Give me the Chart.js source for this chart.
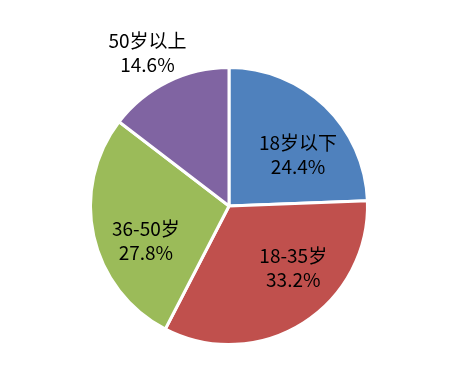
<!DOCTYPE html>
<html>
<head>
<meta charset="utf-8">
<script src="https://cdn.jsdelivr.net/npm/chart.js@4"></script>
<style>
  html, body { margin: 0; padding: 0; background: #fff; }
  #wrap { width: 468px; height: 367px; position: relative; }
</style>
</head>
<body>
<div id="wrap"><canvas id="c" width="468" height="367"></canvas></div>
<script>
const categories = ['18岁以下', '18-35岁', '36-50岁', '50岁以上'];
const percentValues = [24.4, 33.2, 27.8, 14.6];
const sliceColors = ['#4F81BD', '#C0504D', '#9BBB59', '#8064A2'];

// label placement relative to each arc: angle shift (deg) and radius factor
const labelAngleShift = [9.6, -13.6, -10, -1.7];
const labelRadiusFactor = [0.62, 0.645, 0.65, 1.255];

const labelPlugin = {
  id: 'sliceLabels',
  afterDatasetsDraw(chart) {
    const ctx = chart.ctx;
    const meta = chart.getDatasetMeta(0);
    ctx.save();
    ctx.font = '19px "Noto Sans CJK SC", "Noto Sans", sans-serif';
    ctx.fillStyle = '#000';
    ctx.textAlign = 'center';
    ctx.textBaseline = 'middle';
    meta.data.forEach((arc, i) => {
      const p = arc.getProps(['x', 'y', 'startAngle', 'endAngle', 'outerRadius'], true);
      const mid = (p.startAngle + p.endAngle) / 2 + labelAngleShift[i] * Math.PI / 180;
      const r = p.outerRadius * labelRadiusFactor[i];
      const x = p.x + Math.cos(mid) * r;
      const y = p.y + Math.sin(mid) * r;
      ctx.fillText(categories[i], x, y - 12);
      ctx.fillText(percentValues[i].toFixed(1) + '%', x, y + 12);
    });
    ctx.restore();
  }
};

new Chart(document.getElementById('c'), {
  type: 'pie',
  data: {
    labels: categories,
    datasets: [{
      data: percentValues,
      backgroundColor: sliceColors,
      borderColor: '#ffffff',
      borderWidth: 3
    }]
  },
  options: {
    responsive: false,
    animation: false,
    layout: { padding: { top: 66, bottom: 21, left: 89, right: 99 } },
    plugins: {
      legend: { display: false },
      tooltip: { enabled: false }
    }
  },
  plugins: [labelPlugin]
});
</script>
</body>
</html>
